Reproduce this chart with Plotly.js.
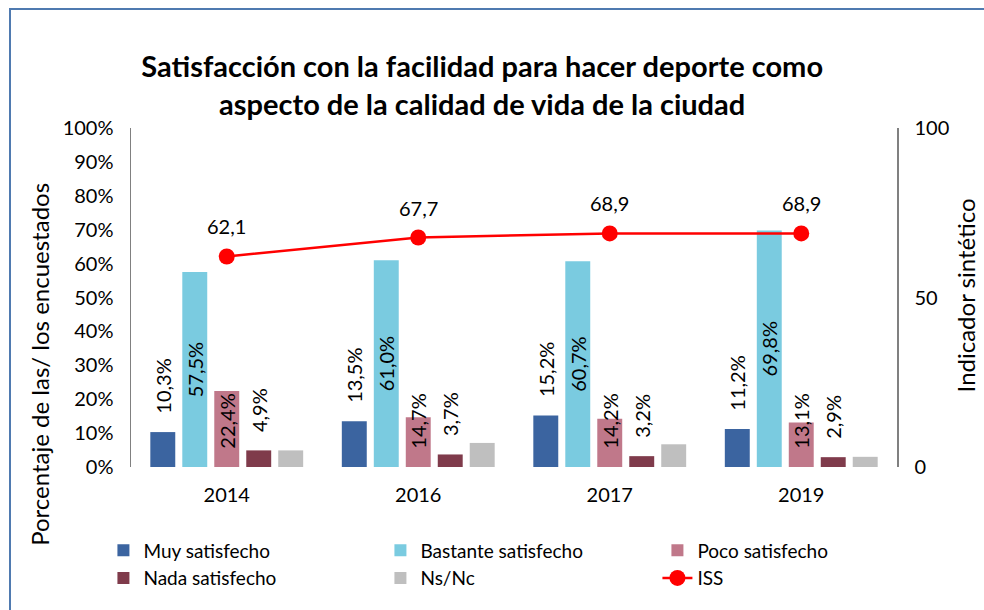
<!DOCTYPE html>
<html>
<head>
<meta charset="utf-8">
<script src="https://cdn.plot.ly/plotly-3.0.1.min.js"></script>
<style>
html,body{margin:0;padding:0;background:#fff;}
#chart{position:absolute;left:0;top:0;width:984px;height:610px;}
#frame{position:absolute;left:9px;top:8px;width:1000px;height:700px;border-left:2px solid #4F7AB0;border-top:2px solid #4F7AB0;pointer-events:none;}
</style>
</head>
<body>
<div id="chart"></div>
<div id="frame"></div>
<script>
const years = ['2014', '2016', '2017', '2019'];
const muySatisfecho = [10.3, 13.5, 15.2, 11.2];
const bastanteSatisfecho = [57.5, 61.0, 60.7, 69.8];
const pocoSatisfecho = [22.4, 14.7, 14.2, 13.1];
const nadaSatisfecho = [4.9, 3.7, 3.2, 2.9];
const nsNc = [4.9, 7.1, 6.7, 3.0];
const iss = [62.1, 67.7, 68.9, 68.9];
const leftTicks = [0, 10, 20, 30, 40, 50, 60, 70, 80, 90, 100];
const rightTicks = [0, 50, 100];

const FONT = 'Lato, "Open Sans", sans-serif';
const pad = '\u00a0\u00a0\u00a0';
const labelFont = {family: FONT, size: 20, color: '#000'};

function barTrace(name, y, color, opts) {
  return Object.assign({
    type: 'bar', name: name, x: years, y: y,
    marker: {color: color},
    textfont: labelFont,
    textangle: -90,
    constraintext: 'none',
    cliponaxis: false,
    hoverinfo: 'skip'
  }, opts || {});
}

const data = [
  barTrace('Muy satisfecho', muySatisfecho, '#3B64A0',
    {texttemplate: pad + '%{y:.1f}%', textposition: 'outside'}),
  barTrace('Bastante satisfecho', bastanteSatisfecho, '#7ACBE0',
    {texttemplate: '%{y:.1f}%', textposition: 'inside', insidetextanchor: 'middle'}),
  barTrace('Poco satisfecho', pocoSatisfecho, '#C0788A',
    {texttemplate: pad + '%{y:.1f}%', textposition: 'inside', insidetextanchor: 'start'}),
  barTrace('Nada satisfecho', nadaSatisfecho, '#7F3B4B',
    {texttemplate: pad + '%{y:.1f}%', textposition: 'outside'}),
  barTrace('Ns/Nc', nsNc, '#BFBFBF', {textposition: 'none'}),
  {
    type: 'scatter', mode: 'lines+markers', name: 'ISS',
    x: years, y: iss, yaxis: 'y2',
    line: {color: '#FF0000', width: 2.5},
    marker: {color: '#FF0000', size: 16},
    hoverinfo: 'skip'
  }
];

const annotations = years.map((yr, i) => ({
  x: i, y: iss[i], xref: 'x', yref: 'y2',
  text: iss[i].toFixed(1).replace('.', ','),
  showarrow: false, yanchor: 'bottom', yshift: 16,
  font: {family: FONT, size: 20, color: '#000'}
}));
annotations.push({
  xref: 'paper', yref: 'paper', x: -0.119, y: 0.304,
  text: 'Porcentaje de las/ los encuestados', textangle: -90,
  showarrow: false, xanchor: 'center', yanchor: 'middle',
  font: {family: FONT, size: 24, color: '#000'}
});
annotations.push({
  xref: 'paper', yref: 'paper', x: 1.09, y: 0.506,
  text: 'Indicador sintético', textangle: -90,
  showarrow: false, xanchor: 'center', yanchor: 'middle',
  font: {family: FONT, size: 24, color: '#000'}
});

const layout = {
  width: 984, height: 610,
  margin: {l: 131, r: 87, t: 128, b: 140, pad: 0},
  paper_bgcolor: '#fff', plot_bgcolor: '#fff',
  separators: ',.',
  showlegend: true,
  barmode: 'group', bargap: 0.165, bargroupgap: 0.22,
  font: {family: FONT, size: 20, color: '#000'},
  title: {
    text: '<b>Satisfacción con la facilidad para hacer deporte como<br>aspecto de la calidad de vida de la ciudad</b>',
    font: {family: FONT, size: 29, color: '#000'},
    x: 0.49, xref: 'container', xanchor: 'center', y: 0.873, yanchor: 'middle', yref: 'container'
  },
  xaxis: {
    type: 'category', showline: false, showgrid: false, zeroline: false,
    ticks: '', ticklabelstandoff: 14, tickfont: {family: FONT, size: 20, color: '#000'}
  },
  yaxis: {
    range: [0, 100], tickvals: leftTicks, ticktext: leftTicks.map(v => v + '%'),
    showgrid: false, zeroline: false, showline: true, linecolor: '#808080', linewidth: 1.5,
    ticks: '', ticklabelstandoff: 12, tickfont: {family: FONT, size: 20, color: '#000'}
  },
  yaxis2: {
    overlaying: 'y', side: 'right', range: [0, 100], tickvals: rightTicks,
    showgrid: false, zeroline: false, showline: true, linecolor: '#808080', linewidth: 1.5,
    ticks: '', ticklabelstandoff: 12, tickfont: {family: FONT, size: 20, color: '#000'}
  },
  legend: {
    orientation: 'h', x: -0.036, xanchor: 'left', y: -0.19, yanchor: 'top',
    entrywidth: 232, entrywidthmode: 'pixels', traceorder: 'normal',
    font: {family: FONT, size: 19, color: '#000'}, bgcolor: 'rgba(0,0,0,0)'
  },
  annotations: annotations
};

Plotly.newPlot('chart', data, layout, {displayModeBar: false, staticPlot: true});
</script>
</body>
</html>
